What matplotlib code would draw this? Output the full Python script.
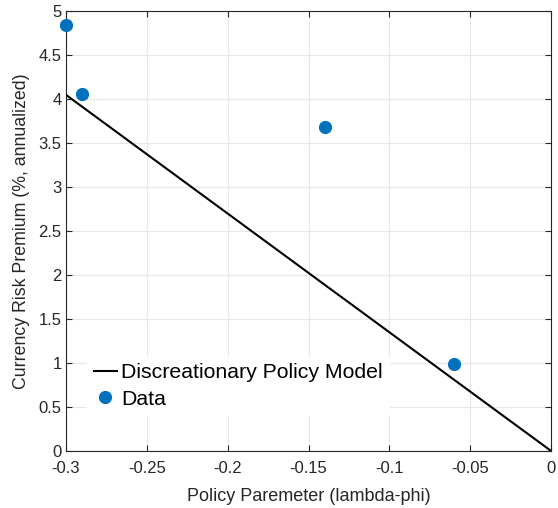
import matplotlib
matplotlib.use("Agg")
import matplotlib.pyplot as plt
import numpy as np

# Data
data_x = [-0.30, -0.29, -0.14, -0.06]
data_y = [4.84, 4.06, 3.68, 0.99]
model_x = [-0.30, 0.0]
model_y = [4.05, 0.0]

xticks = [-0.3, -0.25, -0.2, -0.15, -0.1, -0.05, 0]
xtick_labels = ["-0.3", "-0.25", "-0.2", "-0.15", "-0.1", "-0.05", "0"]
yticks = [0, 0.5, 1, 1.5, 2, 2.5, 3, 3.5, 4, 4.5, 5]
ytick_labels = ["0", "0.5", "1", "1.5", "2", "2.5", "3", "3.5", "4", "4.5", "5"]

plt.rcParams["font.family"] = ["Liberation Sans", "DejaVu Sans"]
axcol = (0.15, 0.15, 0.15)

fig = plt.figure(figsize=(5.58, 5.08), dpi=100)
ax = fig.add_axes([0.118, 0.112, 0.870, 0.866])

ax.plot(model_x, model_y, color="black", lw=1.5, label="Discreationary Policy Model", zorder=3)
ax.plot(data_x, data_y, "o", color="#0072BD", ms=8.5, label="Data", clip_on=False, zorder=4)

ax.set_xlim(-0.3, 0)
ax.set_ylim(0, 5)
ax.set_xticks(xticks)
ax.set_xticklabels(xtick_labels)
ax.set_yticks(yticks)
ax.set_yticklabels(ytick_labels)
ax.grid(True, color=(0.9, 0.9, 0.9), lw=0.8)
ax.set_axisbelow(True)
ax.tick_params(direction="in", length=4, width=0.8, colors=axcol, labelsize=12,
               top=True, right=True)
ax.tick_params(axis="x", pad=7)
ax.tick_params(axis="y", pad=3)
for s in ax.spines.values():
    s.set_color(axcol)
    s.set_linewidth(0.8)

ax.set_xlabel("Policy Paremeter (lambda-phi)", fontsize=13, color=axcol, labelpad=9)
ax.set_ylabel("Currency Risk Premium (%, annualized)", fontsize=12.8, color=axcol, labelpad=6)

leg = ax.legend(loc="lower left", bbox_to_anchor=(0.022, 0.058), frameon=True,
                fontsize=15.3, handlelength=1.1, handletextpad=0.2,
                borderpad=0.3, labelspacing=0.35, fancybox=False)
leg.get_frame().set_edgecolor("white")
leg.get_frame().set_facecolor("white")
leg.get_frame().set_alpha(1)

fig.savefig("out.png", dpi=100)
